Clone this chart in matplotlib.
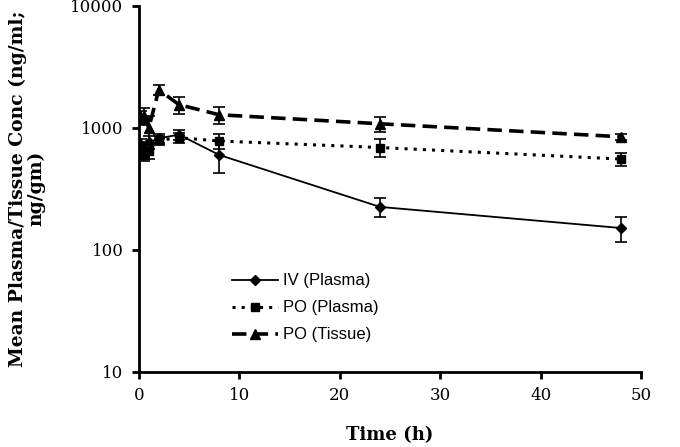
import matplotlib

matplotlib.use("Agg")
import matplotlib.pyplot as plt  # noqa: E402

# time points (h)
time_h = [0.25, 0.5, 1, 2, 4, 8, 24, 48]

# mean concentrations (ng/ml or ng/gm) and SD
iv_plasma = [720, 640, 760, 820, 880, 600, 225, 151]
iv_plasma_err = [90, 80, 90, 70, 80, 175, 40, 36]

po_plasma = [690, 600, 650, 790, 830, 780, 690, 555]
po_plasma_err = [80, 70, 90, 60, 80, 110, 115, 70]

po_tissue = [1230, 1250, 1000, 2050, 1550, 1280, 1080, 845]
po_tissue_err = [150, 200, 250, 200, 250, 210, 150, 50]

y_ticks = [10, 100, 1000, 10000]
x_ticks = [0, 10, 20, 30, 40, 50]

serif = ["DejaVu Serif"]

fig = plt.figure(figsize=(6.8, 4.47), dpi=100)
ax = fig.add_axes([0.204, 0.168, 0.739, 0.819])

err_kw = dict(color="black", ecolor="black", elinewidth=1.2, capsize=4, capthick=1.2)
ax.errorbar(time_h, iv_plasma, yerr=iv_plasma_err, marker="D", ms=5.5, ls="-", lw=1.3,
            label="IV (Plasma)", **err_kw)
ax.errorbar(time_h, po_plasma, yerr=po_plasma_err, marker="s", ms=6, ls=(0, (1, 2)), lw=2.2,
            label="PO (Plasma)", **err_kw)
ax.errorbar(time_h, po_tissue, yerr=po_tissue_err, marker="^", ms=7, ls=(0, (4, 2)), lw=2.6,
            label="PO (Tissue)", **err_kw)

ax.set_yscale("log")
ax.set_ylim(10, 10000)
ax.set_xlim(0, 50)
ax.set_yticks(y_ticks)
ax.set_yticklabels([str(v) for v in y_ticks], family=serif, fontsize=12)
ax.set_xticks(x_ticks)
ax.set_xticklabels([str(v) for v in x_ticks], family=serif, fontsize=12)
ax.minorticks_off()
ax.tick_params(axis="both", direction="out", length=5, width=2, pad=6)

for side in ("top", "right"):
    ax.spines[side].set_visible(False)
for side in ("left", "bottom"):
    ax.spines[side].set_linewidth(2)

ax.set_xlabel("Time (h)", family=serif, fontweight="bold", fontsize=13, labelpad=16)
ax.set_ylabel("Mean Plasma/Tissue Conc (ng/ml;\nng/gm)", family=serif, fontweight="bold",
              fontsize=13.5, labelpad=18, linespacing=1.0)

handles, labels = ax.get_legend_handles_labels()
handles = [h[0] for h in handles]
ax.legend(handles, labels, loc="upper left", bbox_to_anchor=(0.155, 0.31), frameon=False,
          prop={"family": "Liberation Sans", "size": 12}, handlelength=2.8,
          labelspacing=0.72, handletextpad=0.3)

fig.savefig("out.png", dpi=100)
